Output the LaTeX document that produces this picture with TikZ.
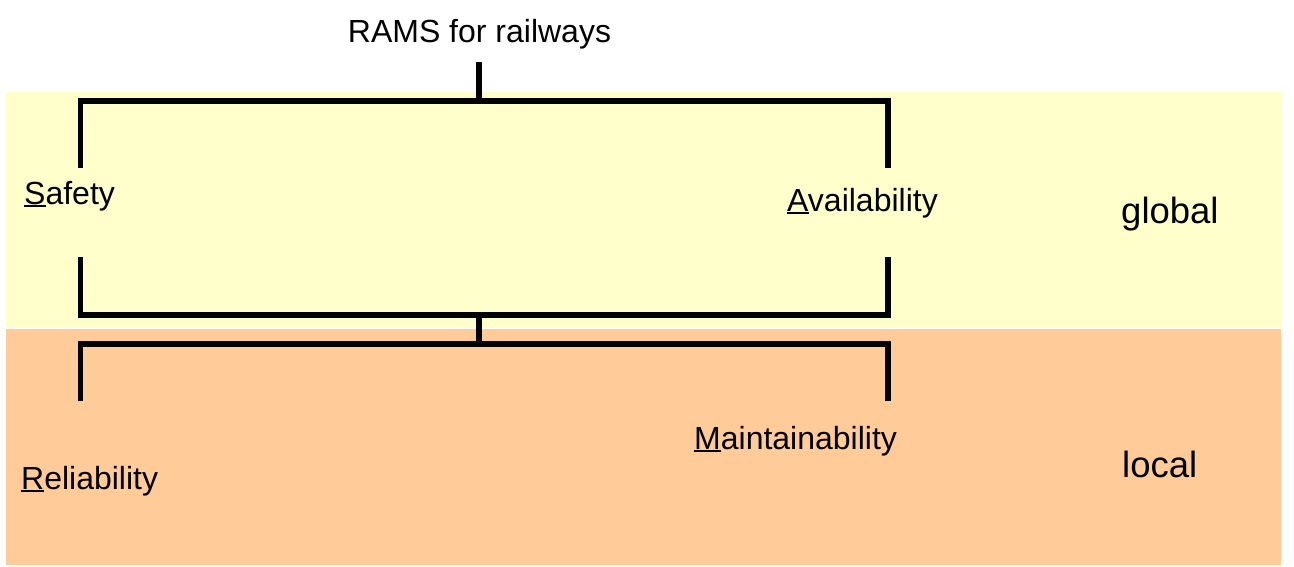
\documentclass[tikz,border=0pt]{standalone}
\usepackage{fontspec}
\setmainfont{Liberation Sans}
\definecolor{bandyellow}{HTML}{FFFFCC}
\definecolor{bandorange}{HTML}{FFCC99}
\newcommand\ulfirst[1]{\setbox0\hbox{#1}\rlap{\rule[-3pt]{\wd0}{2pt}}#1}
\begin{document}
\begin{tikzpicture}[x=1pt,y=-1pt,
  lbl/.style={anchor=base west, inner sep=0pt, font=\fontsize{32}{38}\selectfont},
  side/.style={anchor=base west, inner sep=0pt, font=\fontsize{36.5}{44}\selectfont},
  bar/.style={line width=5.5pt, line join=miter, line cap=butt}]
\useasboundingbox (0,0) rectangle (1294,566);
\fill[white] (0,0) rectangle (1294,566);
\fill[bandyellow] (6,92) rectangle (1281,328);
\fill[bandorange] (6,329) rectangle (1281,565);

\node[lbl, anchor=base] (title) at (479.5,42) {RAMS for railways};
\node[lbl] (safety) at (24,204) {\ulfirst{S}afety};
\node[lbl] (avail) at (787,211) {\ulfirst{A}vailability};
\node[lbl] (rel) at (21,489) {\ulfirst{R}eliability};
\node[lbl] (maint) at (694,449) {\ulfirst{M}aintainability};
\node[side] (global) at (1121,223) {global};
\node[side] (local) at (1122,477) {local};

\coordinate (tstem) at (479,62);
\coordinate (tj) at (479,101);
\coordinate (tl) at (80.5,101);
\coordinate (tr) at (888,101);
\coordinate (tlend) at (80.5,168);
\coordinate (trend) at (888,168);
\coordinate (blend) at (80.5,257);
\coordinate (brend) at (888,257);
\coordinate (bl) at (80.5,315);
\coordinate (br) at (888,315);
\coordinate (bj) at (479,315);
\coordinate (lj) at (479,344);
\coordinate (ll) at (80.5,344);
\coordinate (lr) at (888,344);
\coordinate (llend) at (80.5,401);
\coordinate (lrend) at (888,401);

\draw[bar] (tstem) -- (tj);
\draw[bar] (tlend) -- (tl) -- (tr) -- (trend);
\draw[bar] (blend) -- (bl) -- (br) -- (brend);
\draw[bar] (bj) -- (lj);
\draw[bar] (llend) -- (ll) -- (lr) -- (lrend);
\end{tikzpicture}
\end{document}
